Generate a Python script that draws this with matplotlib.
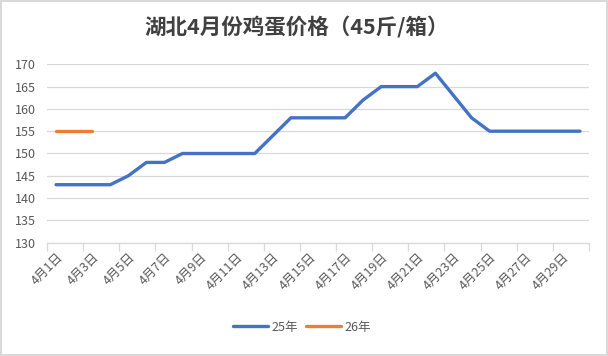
import numpy as np
import matplotlib
matplotlib.use("Agg")
import matplotlib.pyplot as plt

plt.rcParams['font.family'] = ['Noto Sans CJK SC', 'DejaVu Sans']

# data
days = [f"4月{d}日" for d in range(1, 31)]
price_25 = [143, 143, 143, 143, 145, 148, 148, 150, 150, 150,
            150, 150, 154, 158, 158, 158, 158, 162, 165, 165,
            165, 168, 163, 158, 155, 155, 155, 155, 155, 155]
price_26 = [155, 155, 155]
y_ticks = [130, 135, 140, 145, 150, 155, 160, 165, 170]

grey_txt = "#595959"
grid_c = "#D9D9D9"

fig = plt.figure(figsize=(6.08, 3.56), dpi=100, edgecolor=grid_c, linewidth=1.5)
ax = fig.add_axes([47 / 608, 1 - 242.7 / 356, 542 / 608, 178.4 / 356])

x = np.arange(len(days))
ax.plot(x, price_25, color="#4472C4", lw=2.4, label="25年", solid_capstyle="round")
ax.plot(x[:len(price_26)], price_26, color="#ED7D31", lw=2.4, label="26年",
        solid_capstyle="round")

ax.set_xlim(-0.5, len(days) - 0.5)
ax.set_ylim(y_ticks[0], y_ticks[-1])
ax.set_yticks(y_ticks)
ax.grid(axis="y", color=grid_c, lw=0.9)
ax.set_axisbelow(True)

# category boundaries as ticks, labels every other day
ax.set_xticks(np.arange(-0.5, len(days), 2))
ax.set_xticklabels([])
ax.set_xticks(x[::2], minor=True)
ax.set_xticklabels(days[::2], minor=True, rotation=45, ha="right",
                   rotation_mode="anchor", fontsize=9, color=grey_txt)
ax.tick_params(axis="x", which="major", length=6, color=grid_c, width=0.9)
ax.tick_params(axis="x", which="minor", length=0, pad=6)
ax.tick_params(axis="y", length=0, labelsize=9, labelcolor=grey_txt, pad=8)

for s in ["top", "right", "left"]:
    ax.spines[s].set_visible(False)
ax.spines["bottom"].set_color(grid_c)
ax.spines["bottom"].set_linewidth(0.9)

fig.text(297 / 608, 1 - 27 / 356, "湖北4月份鸡蛋价格（45斤/箱）", ha="center", va="center",
         fontsize=15.5, fontweight="bold", color="#404040")

fig.legend(loc="center", bbox_to_anchor=(302 / 608, 1 - 327 / 356), ncol=2,
           frameon=False, fontsize=9, handlelength=2.8, columnspacing=0.6,
           handletextpad=0.3, labelcolor=grey_txt)

fig.savefig("out.png", dpi=100)
